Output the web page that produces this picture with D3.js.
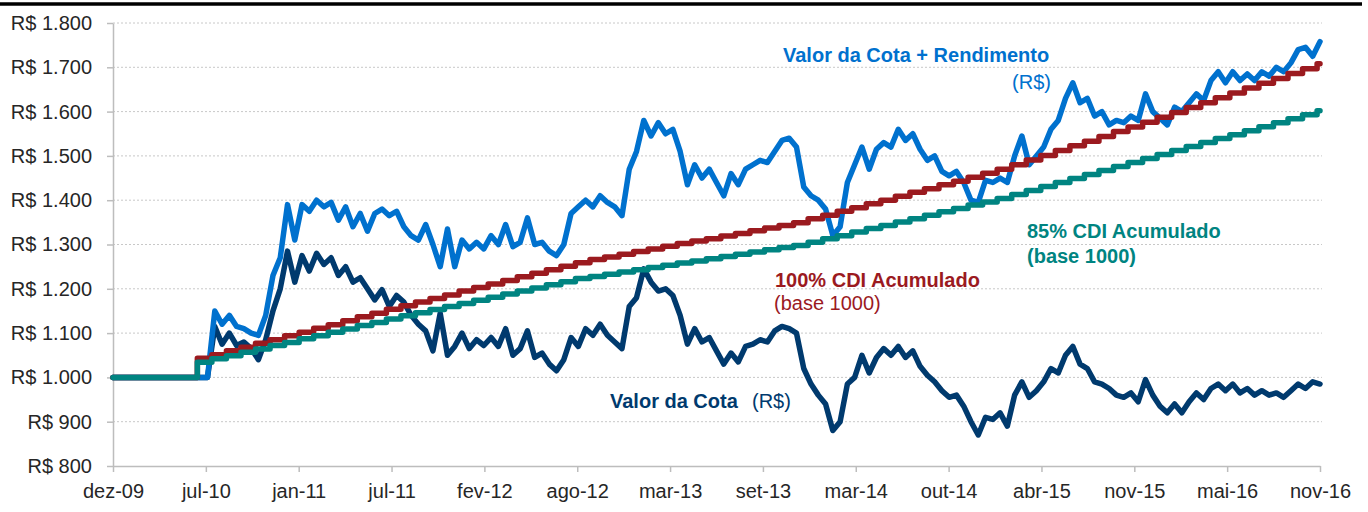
<!DOCTYPE html>
<html>
<head>
<meta charset="utf-8">
<script src="https://cdn.jsdelivr.net/npm/d3@7"></script>
<style>
    body { margin: 0; background: #fff; }
    svg { display: block; font-family: "Liberation Sans", Arial, sans-serif; }
    .grid line { stroke: #c8c8c8; stroke-dasharray: 2,2; }
    .axis path, .axis line { stroke: #bdbdbd; stroke-width: 1.5; }
    .axis text { fill: #262626; font-size: 20px; }
    .serie { fill: none; stroke-width: 5.5; stroke-linejoin: round; stroke-linecap: round; }
</style>
</head>
<body>
<svg id="chart" width="1368" height="512"></svg>
<script>
// meses desde dez-09 no eixo x
var xLabels = ["dez-09","jul-10","jan-11","jul-11","fev-12","ago-12","mar-13","set-13","mar-14","out-14","abr-15","nov-15","mai-16","nov-16"];
var yTicks = [800,900,1000,1100,1200,1300,1400,1500,1600,1700,1800];
var lastMonth = 83;
var baseValue = 1000;

// CDI acumulado, degraus mensais a partir de cdiStart
var cdiStart = 5.8;
var cdi100 = [1043,1051,1060,1068,1077,1085,1094,1102,1111,1119,1128,1137,1145,1154,1162,1170,1178,1186,1195,1203,
    1211,1219,1227,1235,1243,1251,1259,1266,1272,1278,1284,1290,1296,1302,1308,1313,1319,1325,1331,1337,
    1343,1349,1358,1366,1375,1383,1392,1400,1409,1418,1426,1435,1443,1452,1461,1470,1480,1491,1501,1512,
    1523,1533,1544,1555,1565,1576,1587,1598,1609,1620,1631,1642,1653,1664,1675,1686,1697,1708];
var cdi85 = [1034,1042,1049,1057,1064,1072,1079,1087,1094,1102,1109,1117,1124,1132,1139,1146,1153,1160,1167,1174,
    1181,1188,1195,1202,1209,1216,1223,1228,1233,1238,1243,1248,1253,1258,1263,1268,1273,1278,1283,1288,
    1293,1298,1305,1313,1320,1328,1336,1343,1351,1358,1366,1374,1381,1389,1396,1404,1413,1422,1431,1440,
    1449,1458,1467,1476,1485,1494,1503,1512,1521,1530,1539,1548,1557,1566,1575,1584,1593,1602];

// cota, amostras a cada meio mes a partir de cotaStart
var cotaStart = 6.5, cotaStep = 0.5;
var valorCota = [1000,1115,1075,1100,1072,1080,1065,1040,1085,1150,1200,1285,1215,1275,1240,1280,1255,1270,1230,1250,
    1215,1225,1200,1175,1198,1160,1185,1170,1140,1120,1105,1060,1145,1050,1070,1100,1065,1085,1072,1090,
    1070,1110,1050,1065,1105,1045,1055,1030,1015,1040,1090,1070,1110,1095,1120,1095,1080,1065,1160,1180,
    1245,1215,1195,1200,1185,1140,1075,1110,1080,1090,1060,1030,1055,1035,1070,1075,1085,1080,1105,1115,
    1110,1100,1020,985,960,940,880,900,985,1000,1050,1010,1045,1065,1050,1070,1045,1060,1025,1005,
    990,970,955,960,935,900,870,910,905,920,890,960,990,955,970,990,1020,1010,1050,1070,
    1030,1020,990,985,975,960,955,965,945,995,960,935,920,940,920,945,965,950,975,985,
    970,985,965,975,960,970,960,965,955,970,985,975,990,985];
var cotaRendimento = [1000,1150,1120,1140,1115,1110,1100,1095,1140,1230,1270,1390,1310,1390,1375,1400,1385,1395,1355,1385,
    1340,1370,1330,1370,1380,1365,1375,1340,1320,1310,1345,1300,1250,1335,1250,1310,1290,1305,1290,1320,
    1300,1345,1295,1305,1360,1300,1305,1285,1275,1300,1370,1385,1400,1385,1410,1395,1385,1365,1470,1510,
    1580,1545,1575,1550,1560,1510,1435,1480,1450,1470,1440,1410,1460,1435,1470,1480,1490,1485,1510,1535,
    1540,1520,1430,1410,1400,1380,1320,1340,1440,1480,1520,1470,1515,1530,1520,1560,1535,1550,1515,1490,
    1500,1465,1455,1465,1440,1400,1395,1445,1440,1450,1440,1500,1545,1480,1500,1520,1560,1580,1630,1665,
    1620,1630,1590,1600,1570,1580,1575,1590,1580,1640,1600,1585,1570,1610,1600,1620,1640,1625,1670,1690,
    1665,1690,1670,1685,1670,1690,1680,1700,1690,1710,1740,1745,1725,1758];

var svg = d3.select("#chart");
var width = 1368, height = 512;
var m = {l:113, r:48, t:23, b:46};

var x = d3.scaleLinear().domain([0, lastMonth]).range([m.l, width - m.r]);
var y = d3.scaleLinear().domain([800, 1800]).range([height - m.b, m.t]);

var br = d3.formatLocale({decimal: ",", thousands: ".", grouping: [3], currency: ["R$ ", ""]});
var fmt = br.format("$,.0f");

// linha preta no topo
svg.append("line")
    .attr("x1", 0).attr("x2", 1362)
    .attr("y1", 4).attr("y2", 4)
    .attr("stroke", "#000").attr("stroke-width", 3.5);

// grade
svg.append("g").attr("class", "grid")
    .selectAll("line").data(yTicks.slice(1))
    .join("line")
    .attr("x1", x(0)).attr("x2", x(lastMonth) + 2)
    .attr("y1", d => y(d)).attr("y2", d => y(d));

// eixos
var tickMonths = xLabels.map((d, i) => lastMonth * i / (xLabels.length - 1));
svg.append("g").attr("class", "axis")
    .attr("transform", "translate(0," + y(800) + ")")
    .call(d3.axisBottom(x).tickValues(tickMonths).tickFormat((d, i) => xLabels[i])
        .tickSizeInner(6).tickSizeOuter(0).tickPadding(12));
svg.append("g").attr("class", "axis")
    .attr("transform", "translate(" + x(0) + ",0)")
    .call(d3.axisLeft(y).tickValues(yTicks).tickFormat(fmt)
        .tickSizeInner(6).tickSizeOuter(0).tickPadding(15));

// series
function cdiPoints(arr) {
    var pts = [[0, baseValue]];
    arr.forEach((v, k) => pts.push([cdiStart + k, v]));
    pts.push([lastMonth, arr[arr.length - 1]]);
    return pts;
}
function cotaPoints(arr) {
    var pts = [[0, baseValue]];
    arr.forEach((v, k) => pts.push([cotaStart + k * cotaStep, v]));
    return pts;
}

var line = d3.line().x(d => x(d[0])).y(d => y(d[1]));
var stepLine = d3.line().x(d => x(d[0])).y(d => y(d[1])).curve(d3.curveStepAfter);

var series = [
    {pts: cotaPoints(valorCota), color: "#003a6e", gen: line},
    {pts: cotaPoints(cotaRendimento), color: "#0071ce", gen: line},
    {pts: cdiPoints(cdi100), color: "#9b1a1f", gen: stepLine},
    {pts: cdiPoints(cdi85), color: "#008481", gen: stepLine}
];
svg.append("g").selectAll("path").data(series)
    .join("path")
    .attr("class", "serie")
    .attr("stroke", d => d.color)
    .attr("d", d => d.gen(d.pts));

// rotulos
var labels = [
    {t: "Valor da Cota + Rendimento", x: 783, y: 62, c: "#0071ce", w: "bold", a: "start"},
    {t: "(R$)", x: 1051, y: 89, c: "#0071ce", w: "normal", a: "end"},
    {t: "100% CDI Acumulado", x: 775, y: 287, c: "#9b1a1f", w: "bold", a: "start"},
    {t: "(base 1000)", x: 774, y: 310, c: "#9b1a1f", w: "normal", a: "start"},
    {t: "85% CDI Acumulado", x: 1027, y: 238, c: "#008481", w: "bold", a: "start"},
    {t: "(base 1000)", x: 1027, y: 263, c: "#008481", w: "bold", a: "start"},
    {t: "Valor da Cota", x: 610, y: 408, c: "#003a6e", w: "bold", a: "start"},
    {t: "(R$)", x: 752, y: 408, c: "#003a6e", w: "normal", a: "start"}
];
svg.append("g").selectAll("text").data(labels)
    .join("text")
    .attr("x", d => d.x).attr("y", d => d.y)
    .attr("fill", d => d.c)
    .attr("font-weight", d => d.w)
    .attr("text-anchor", d => d.a)
    .attr("font-size", 20)
    .text(d => d.t);
</script>
</body>
</html>
